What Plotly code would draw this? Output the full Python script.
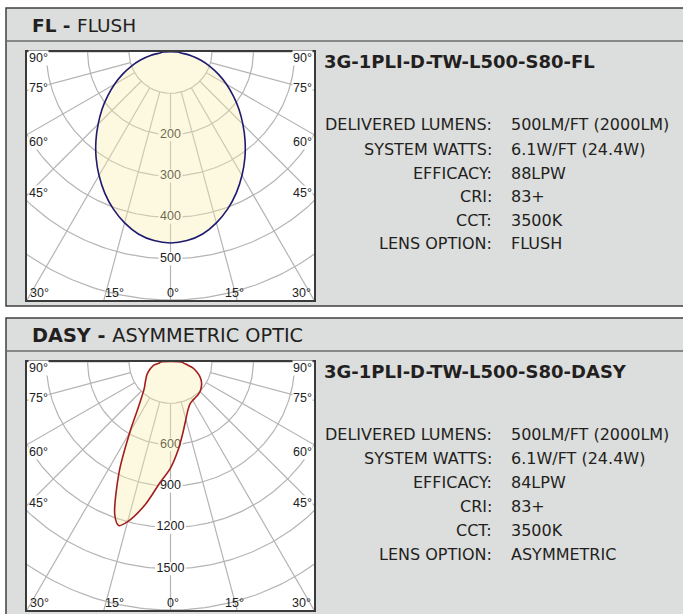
import numpy as np
import plotly.graph_objects as go

W, H = 683, 614

# ---------------- data ----------------
fl_angles = [-90, -85, -80, -75, -70, -65, -60, -55, -50, -45, -40, -35, -30, -25, -20, -15, -10, -5,
             0, 5, 10, 15, 20, 25, 30, 35, 40, 45, 50, 55, 60, 65, 70, 75, 80, 85, 90]
fl_candela = [18, 25, 49, 75, 101, 128, 156, 185, 216, 247, 280, 313, 345, 376, 404, 428, 447, 458,
              462, 458, 447, 428, 404, 376, 345, 313, 280, 247, 216, 185, 156, 128, 101, 75, 49, 25, 18]

dasy_angles = [-90, -85, -80, -75, -70, -65, -60, -55, -50, -45, -40, -35, -30, -25, -20, -17.5, -15,
               -10, -5, 0, 5, 10, 15, 20, 25, 30, 35, 40, 45, 50, 55, 60, 65, 70, 75, 80, 85, 90]
dasy_candela = [70, 80, 120, 140, 160, 180, 200, 218, 240, 268, 320, 410, 590, 880, 1180, 1245, 1200,
                1050, 880, 770, 640, 520, 430, 370, 335, 322, 315, 310, 303, 290, 275, 255, 230, 200,
                170, 125, 95, 80]

fl_rings = [100, 200, 300, 400, 500, 600, 700]
fl_ring_labels = ["200", "300", "400", "500"]
dasy_rings = [300, 600, 900, 1200, 1500, 1800, 2100]
dasy_ring_labels = ["600", "900", "1200", "1500"]
ray_angles = [-90, -75, -60, -45, -30, -15, 0, 15, 30, 45, 60, 75, 90]

side_angle_labels = ["90°", "75°", "60°", "45°"]
bottom_angle_labels = ["30°", "15°", "0°", "15°", "30°"]

fl_title = "3G-1PLI-D-TW-L500-S80-FL"
dasy_title = "3G-1PLI-D-TW-L500-S80-DASY"
spec_keys = ["DELIVERED LUMENS:", "SYSTEM WATTS:", "EFFICACY:", "CRI:", "CCT:", "LENS OPTION:"]
fl_specs = ["500LM/FT (2000LM)", "6.1W/FT (24.4W)", "88LPW", "83+", "3500K", "FLUSH"]
dasy_specs = ["500LM/FT (2000LM)", "6.1W/FT (24.4W)", "84LPW", "83+", "3500K", "ASYMMETRIC"]

# ---------------- geometry ----------------
BX0, BX1, BH = 27, 314, 248
CX = (BX0 + BX1) / 2
TXT = "#231f20"
SANS = "DejaVu Sans, Verdana, sans-serif"
ARIAL = "Liberation Sans, Arial, sans-serif"


def px(x):
    return x / W


def py(y):
    return 1 - y / H


fig = go.Figure()
shapes = []
annotations = []


def add_panel(idx, top, header_bold, header_reg, header_size, box_top, rings, ring_labels,
              angles, candela, line_color, title, specs, title_y, rows_y):
    xa = "x" if idx == 1 else "x2"
    ya = "y" if idx == 1 else "y2"
    rmax = rings[5]  # ring touching the bottom of the box
    xmax = rmax * np.tan(np.radians(30))
    scale = rmax / BH  # data units per pixel

    # panel background + header divider
    shapes.append(dict(type="rect", xref="paper", yref="paper", x0=px(6), x1=1.05,
                       y0=py(top + 298), y1=py(top), fillcolor="#dcdddd",
                       line=dict(color="#3f3f3f", width=1.5), layer="below"))
    shapes.append(dict(type="line", xref="paper", yref="paper", x0=px(6), x1=1.05,
                       y0=py(top + 33), y1=py(top + 33),
                       line=dict(color="#6a6a6a", width=1.5), layer="below"))
    shapes.append(dict(type="rect", xref="paper", yref="paper", x0=px(BX0), x1=px(BX1),
                       y0=py(box_top + BH), y1=py(box_top), fillcolor="white",
                       line=dict(width=0), layer="below"))

    # polar grid (rings + rays)
    gx, gy = [], []
    t = np.linspace(-np.pi, np.pi, 361)
    for r in rings:
        gx += list(r * np.sin(t)) + [None]
        gy += list(-r * np.cos(t)) + [None]
    for a in ray_angles:
        ar = np.radians(a)
        gx += [rings[0] * np.sin(ar), 3 * rmax * np.sin(ar), None]
        gy += [-rings[0] * np.cos(ar), -3 * rmax * np.cos(ar), None]
    fig.add_trace(go.Scatter(x=gx, y=gy, mode="lines", xaxis=xa, yaxis=ya,
                             line=dict(color="#b4b4b4", width=1.2), hoverinfo="skip"))

    # knockouts behind ring labels
    kx, ky, lx, ly = [], [], [], []
    for i, lab in enumerate(ring_labels):
        r = rings[i + 1]
        hw = (len(lab) * 3.5 + 1.5) * scale
        hh = 6.5 * scale
        kx += [-hw, hw, hw, -hw, -hw, None]
        ky += [-r - hh, -r - hh, -r + hh, -r + hh, -r - hh, None]
        lx.append(0)
        ly.append(-r)
    fig.add_trace(go.Scatter(x=kx, y=ky, mode="lines", fill="toself", fillcolor="white",
                             line=dict(width=0), xaxis=xa, yaxis=ya, hoverinfo="skip"))
    fig.add_trace(go.Scatter(x=lx, y=ly, mode="text", text=ring_labels, xaxis=xa, yaxis=ya,
                             textposition="middle center",
                             textfont=dict(family=ARIAL, size=12.5, color="#1a1a1a"),
                             hoverinfo="skip"))

    # candela distribution
    ar = np.radians(np.array(angles, dtype=float))
    cd = np.array(candela, dtype=float)
    cxs = list(cd * np.sin(ar))
    cys = list(-cd * np.cos(ar))
    cxs.append(cxs[0])
    cys.append(cys[0])
    fig.add_trace(go.Scatter(x=cxs, y=cys, mode="lines", fill="toself",
                             fillcolor="rgba(249,238,169,0.36)",
                             line=dict(color=line_color, width=1.6, shape="spline", smoothing=0.8),
                             xaxis=xa, yaxis=ya, hoverinfo="skip"))

    dom_y = [py(box_top + BH), py(box_top)]
    ax_common = dict(showgrid=False, zeroline=False, showticklabels=False, ticks="",
                     showline=True, mirror=True, linecolor="#3a3a3a", linewidth=2,
                     fixedrange=True)
    fig.update_layout(**{
        ("xaxis" if idx == 1 else "xaxis2"): dict(domain=[px(BX0), px(BX1)],
                                                    range=[-xmax, xmax], anchor=ya, **ax_common),
        ("yaxis" if idx == 1 else "yaxis2"): dict(domain=dom_y, range=[-rmax, 0],
                                                    anchor=xa, **ax_common),
    })

    # angle labels
    side_offsets = [6, 36, 90, 141]
    for lab, off in zip(side_angle_labels, side_offsets):
        for xpos, anc in ((BX0 + 1, "left"), (BX1 - 1, "right")):
            annotations.append(dict(xref="paper", yref="paper", x=px(xpos), y=py(box_top + off),
                                    text=lab, showarrow=False, xanchor=anc, yanchor="middle",
                                    font=dict(family=ARIAL, size=12.5, color="#222"),
                                    bgcolor="white", borderpad=0))
    bottom_pos = [(BX0 + 1, "left"), (CX - 56, "center"), (CX + 2, "center"),
                  (CX + 64, "center"), (BX1 - 1, "right")]
    for lab, (xpos, anc) in zip(bottom_angle_labels, bottom_pos):
        annotations.append(dict(xref="paper", yref="paper", x=px(xpos), y=py(box_top + 241),
                                text=lab, showarrow=False, xanchor=anc, yanchor="middle",
                                font=dict(family=ARIAL, size=12.5, color="#222")))

    # header
    annotations.append(dict(xref="paper", yref="paper", x=px(30), y=py(top + 17),
                            text="<b>" + header_bold + "</b>" + header_reg, showarrow=False,
                            xanchor="left", yanchor="middle",
                            font=dict(family=SANS, size=header_size, color=TXT)))
    # title + specs
    annotations.append(dict(xref="paper", yref="paper", x=px(322), y=py(title_y),
                            text="<b>" + title + "</b>", showarrow=False,
                            xanchor="left", yanchor="middle",
                            font=dict(family=SANS, size=18, color=TXT)))
    for key, val, yy in zip(spec_keys, specs, rows_y):
        annotations.append(dict(xref="paper", yref="paper", x=px(494), y=py(yy), text=key,
                                showarrow=False, xanchor="right", yanchor="middle",
                                font=dict(family=SANS, size=16, color=TXT)))
        annotations.append(dict(xref="paper", yref="paper", x=px(509), y=py(yy), text=val,
                                showarrow=False, xanchor="left", yanchor="middle",
                                font=dict(family=SANS, size=16, color=TXT)))


add_panel(1, 8, "FL - ", "FLUSH", 18.5, 52, fl_rings, fl_ring_labels, fl_angles, fl_candela,
          "#1e1a70", fl_title, fl_specs, 61, [125, 149, 173, 197, 221, 244])
add_panel(2, 318, "DASY - ", "ASYMMETRIC OPTIC", 19.3, 362, dasy_rings, dasy_ring_labels,
          dasy_angles, dasy_candela, "#a31d1d", dasy_title, dasy_specs, 371,
          [434, 458, 482, 506, 530, 554])

fig.update_layout(width=W, height=H, margin=dict(l=0, r=0, t=0, b=0),
                  paper_bgcolor="white", plot_bgcolor="white", showlegend=False,
                  shapes=shapes, annotations=annotations)

fig.write_html("out.html", config={"displayModeBar": False, "staticPlot": True},
               post_script="document.body.style.margin='0px';")
